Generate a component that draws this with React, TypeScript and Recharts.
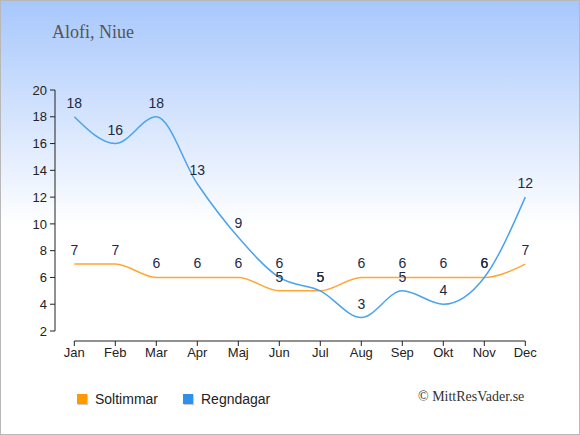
import { LabelList, Line, LineChart, XAxis, YAxis } from "recharts";

const MONTHS = ["Jan", "Feb", "Mar", "Apr", "Maj", "Jun", "Jul", "Aug", "Sep", "Okt", "Nov", "Dec"];
const SOLTIMMAR = [7, 7, 6, 6, 6, 5, 5, 6, 6, 6, 6, 7];
const REGNDAGAR = [18, 16, 18, 13, 9, 6, 5, 3, 5, 4, 6, 12];
const Y_TICKS = [2, 4, 6, 8, 10, 12, 14, 16, 18, 20];

const SERIES = [
  { key: "soltimmar", name: "Soltimmar", line: "#ffa733", swatch: "#ff9900" },
  { key: "regndagar", name: "Regndagar", line: "#4ba2ee", swatch: "#2e90e8" },
];

const SANS = "'Liberation Sans', Arial, sans-serif";
const SERIF = "'Liberation Serif', 'Times New Roman', serif";
const AXIS = "#222";
const LABEL = "#1b2a46";

export default function App() {
  const data = MONTHS.map((m, i) => ({
    month: m,
    soltimmar: SOLTIMMAR[i],
    regndagar: REGNDAGAR[i],
  }));

  return (
    <div
      style={{
        position: "relative",
        width: 580,
        height: 435,
        background: "linear-gradient(to bottom, #a7c7fc 0%, #ffffff 52%)",
        fontFamily: SANS,
      }}
    >
      <style>{"body{margin:0}"}</style>
      <div
        style={{
          position: "absolute",
          left: 52,
          top: 23,
          fontFamily: SERIF,
          fontSize: 18,
          lineHeight: "18px",
          color: "#555",
          whiteSpace: "nowrap",
        }}
      >
        Alofi, Niue
      </div>

      <LineChart
        width={580}
        height={435}
        data={data}
        margin={{ top: 90, right: 54.7, bottom: 74, left: 14.3 }}
        style={{ position: "absolute", left: 0, top: 0 }}
      >
        <XAxis
          dataKey="month"
          interval={0}
          height={30}
          tickSize={5}
          tickMargin={12}
          tick={{ fill: AXIS, fontSize: 13, fontFamily: SANS }}
          axisLine={{ stroke: AXIS, transform: "translate(0,10)" }}
          tickLine={{ stroke: AXIS, transform: "translate(0,10)" }}
        />
        <YAxis
          width={60}
          domain={[2, 20]}
          ticks={Y_TICKS}
          interval={0}
          tickSize={5}
          tickMargin={22.3}
          tick={{ fill: AXIS, fontSize: 13, fontFamily: SANS }}
          axisLine={{ stroke: AXIS, transform: "translate(-19.3,0)" }}
          tickLine={{ stroke: AXIS, transform: "translate(-19.3,0)" }}
        />
        {SERIES.map((s) => (
          <Line
            key={s.key}
            type="monotone"
            dataKey={s.key}
            name={s.name}
            stroke={s.line}
            strokeWidth={1.5}
            dot={false}
            activeDot={false}
            isAnimationActive={false}
          >
            <LabelList
              dataKey={s.key}
              position="top"
              offset={9}
              fill={LABEL}
              fontSize={14}
              fontFamily={SANS}
            />
          </Line>
        ))}
      </LineChart>

      <div
        style={{
          position: "absolute",
          left: 77,
          top: 391.7,
          display: "flex",
          fontSize: 14,
          lineHeight: "14px",
          color: "#222",
        }}
      >
        {SERIES.map((s) => (
          <div key={s.key} style={{ display: "flex", alignItems: "center", width: 106 }}>
            <span
              style={{
                display: "inline-block",
                width: 10,
                height: 10,
                background: s.swatch,
                boxShadow: "1px 1px 1px rgba(0,0,0,0.2)",
                marginRight: 8,
              }}
            />
            <span>{s.name}</span>
          </div>
        ))}
      </div>

      <div
        style={{
          position: "absolute",
          left: 418,
          top: 390,
          fontFamily: SERIF,
          fontSize: 14,
          lineHeight: "14px",
          color: "#333",
          whiteSpace: "nowrap",
        }}
      >
        © MittResVader.se
      </div>

      <div
        style={{
          position: "absolute",
          inset: 0,
          border: "1px solid #b8b8b8",
          boxSizing: "border-box",
          pointerEvents: "none",
        }}
      />
    </div>
  );
}
